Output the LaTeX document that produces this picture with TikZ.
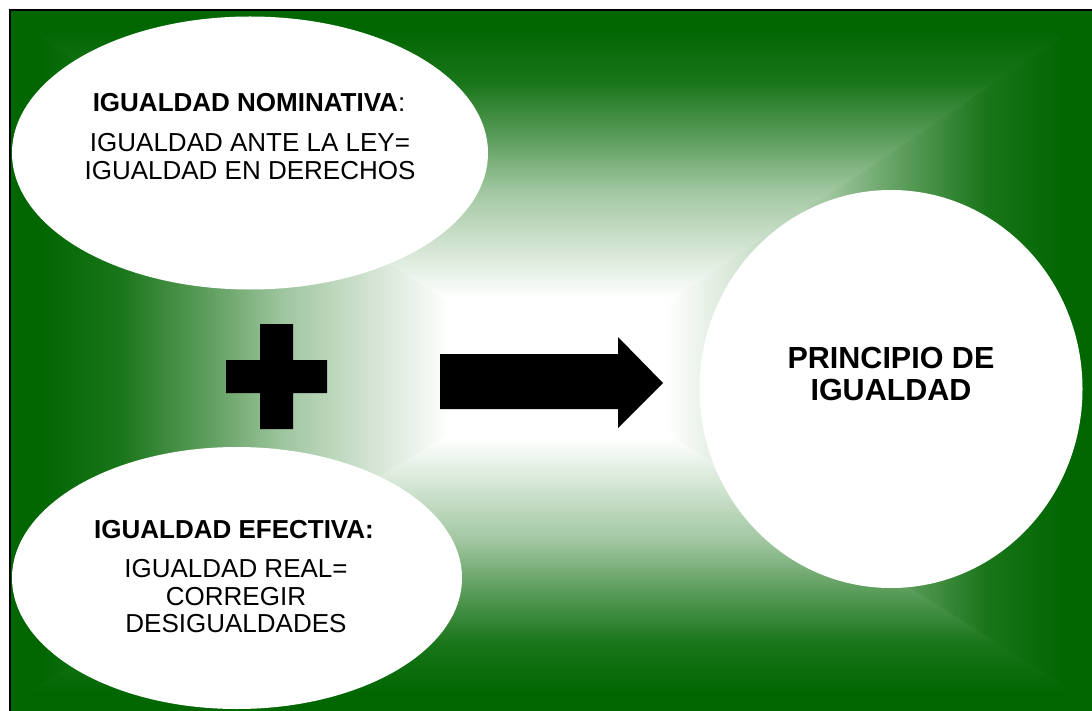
\documentclass[tikz,border=0pt]{standalone}
\usepackage{fontspec}
\setmainfont{Liberation Sans}
\usetikzlibrary{shapes.geometric}
\definecolor{gr}{RGB}{0,102,0}
\pgfdeclareverticalshading{sgTop}{100bp}{color(0bp)=(white); color(35bp)=(white); color(50bp)=(gr!37!white); color(57.5bp)=(gr!65!white); color(65bp)=(gr!90!white); color(72.5bp)=(gr); color(100bp)=(gr)}
\pgfdeclareverticalshading{sgBot}{100bp}{color(0bp)=(gr); color(27.5bp)=(gr); color(35bp)=(gr!90!white); color(42.5bp)=(gr!65!white); color(50bp)=(gr!37!white); color(65bp)=(white); color(100bp)=(white)}
\pgfdeclarehorizontalshading{sgLeft}{100bp}{color(0bp)=(gr); color(27.5bp)=(gr); color(35bp)=(gr!90!white); color(42.5bp)=(gr!65!white); color(50bp)=(gr!37!white); color(65bp)=(white); color(100bp)=(white)}
\pgfdeclarehorizontalshading{sgRight}{100bp}{color(0bp)=(white); color(35bp)=(white); color(50bp)=(gr!37!white); color(57.5bp)=(gr!65!white); color(65bp)=(gr!90!white); color(72.5bp)=(gr); color(100bp)=(gr)}
\begin{document}
\begin{tikzpicture}[x=1bp,y=-1bp,
  blob/.style={ellipse, fill=white, draw=none, inner sep=0pt},
  txt/.style={anchor=base, inner sep=0pt, font=\fontsize{26bp}{31bp}\selectfont},
  txtb/.style={anchor=base, inner sep=0pt, font=\fontsize{26bp}{31bp}\selectfont\bfseries},
  big/.style={anchor=base, inner sep=0pt, font=\fontsize{30.5bp}{36bp}\selectfont\bfseries}]
\useasboundingbox (0,0) rectangle (1092,711);
\fill[white] (0,0) rectangle (1092,711);
% background rectangular gradient
\coordinate (C) at (560,370);
\coordinate (TL) at (10,10);
\coordinate (TR) at (1092,10);
\coordinate (BR) at (1092,711);
\coordinate (BL) at (10,711);
\shade[shading=sgLeft] (TL) -- (BL) -- (C) -- cycle;
\shade[shading=sgRight] (TR) -- (BR) -- (C) -- cycle;
\begin{scope}
  \clip (4,4) -- (1098,4) -- (1098,14) -- (560,374) -- (4,14) -- cycle;
  \shade[shading=sgTop] (TL) rectangle (1092,370);
\end{scope}
\begin{scope}
  \clip (4,717) -- (1098,717) -- (1098,707) -- (560,366) -- (4,707) -- cycle;
  \shade[shading=sgBot] (10,370) rectangle (BR);
\end{scope}
% ellipses
\node[blob, minimum width=476bp, minimum height=273bp] (nom) at (250,153) {};
\node[blob, minimum width=450bp, minimum height=262bp] (efe) at (237,578) {};
\node[blob, minimum width=383bp, minimum height=398bp] (pri) at (891,389) {};
% border
\draw[line width=2.5bp] (10,711) -- (10,10) -- (1092,10);
% texts
\node[txtb] (n1) at (249,112) {IGUALDAD NOMINATIVA\textmd{:}};
\node[txt] (n2) at (250,152) {IGUALDAD ANTE LA LEY=};
\node[txt] (n3) at (250,180) {IGUALDAD EN DERECHOS};
\node[txtb] (e1) at (234,538) {IGUALDAD EFECTIVA:};
\node[txt] (e2) at (236,577) {IGUALDAD REAL=};
\node[txt] (e3) at (236,605) {CORREGIR};
\node[txt] (e4) at (236,632) {DESIGUALDADES};
\node[big] (p1) at (891,368) {PRINCIPIO DE};
\node[big] (p2) at (891,400) {IGUALDAD};
% plus sign
\fill[black] (260,324) -- (293,324) -- (293,360) -- (327,360) -- (327,393) -- (293,393) -- (293,429) -- (260,429) -- (260,393) -- (226,393) -- (226,360) -- (260,360) -- cycle;
% block arrow
\fill[black] (440,354) -- (618,354) -- (618,337) -- (663,383) -- (618,428) -- (618,409) -- (440,409) -- cycle;
\end{tikzpicture}
\end{document}
